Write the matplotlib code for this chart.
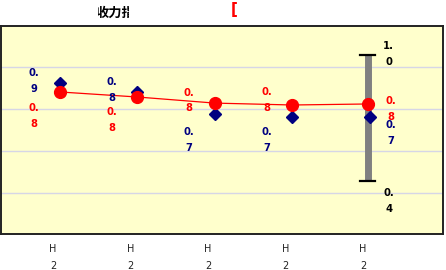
import numpy as np
import matplotlib
matplotlib.use("Agg")
import matplotlib.pyplot as plt
from matplotlib.transforms import Bbox, TransformedBbox, ScaledTranslation

# ---- data ----
categories = ["H\n2", "H\n2", "H\n2", "H\n2", "H\n2"]
blue_vals = [0.867, 0.824, 0.719, 0.705, 0.705]
red_vals = [0.824, 0.800, 0.771, 0.762, 0.767]
blue_labels = ["0.\n9", "0.\n8", "0.\n7", "0.\n7", "0.\n7"]
red_labels = ["0.\n8", "0.\n8", "0.\n8", "0.\n8", "0.\n8"]
range_lo, range_hi = 0.4, 1.0
range_labels = ["1.\n0", "0.\n4"]
grid_vals = [0.345, 0.545, 0.745, 0.945]

# label offsets in pixels (layout only)
blue_off = [(-26, 2), (-26, 2), (-26, -26), (-26, -23), (21, -16)]
red_off = [(-26, -24), (-26, -23), (-26, 3), (-26, 5), (21, -5)]

W, H = 446, 270
fig = plt.figure(figsize=(W / 100, H / 100), dpi=100)
fig.patch.set_facecolor("white")
ax = fig.add_axes([0.5 / W, 1 - 234 / H, 443 / W, 208 / H])
ax.set_facecolor("#FFFFCC")
for s in ax.spines.values():
    s.set_color("#222222")
    s.set_linewidth(1.4)

x = np.arange(len(categories))
ax.set_xlim(-0.768, 4.95)
ax.set_ylim(0.148, 1.138)

for g in grid_vals:
    ax.axhline(g, color="#D6D6E6", lw=1.0, zorder=1)

# range bar on last category
xl = x[-1] - 0.03
ax.plot([xl, xl], [range_lo, range_hi], color="#808080", lw=5, zorder=2,
        solid_capstyle="butt")
for v in (range_lo, range_hi):
    ax.plot([xl - 0.1, xl + 0.1], [v, v], color="black", lw=1.6, zorder=3)

ax.plot(x, red_vals, color="#FF0000", lw=0.9, zorder=4)
ax.plot(x, blue_vals, ls="none", marker="D", ms=6, color="#000080", zorder=5)
ax.plot(x[:-1], red_vals[:-1], ls="none", marker="o", ms=8.5, color="#FF0000", zorder=6)
ax.plot(x[-1:] - 0.03, red_vals[-1:], ls="none", marker="o", ms=8.5, color="#FF0000", zorder=6)

lab_kw = dict(textcoords="offset pixels", ha="center", va="center",
              fontsize=7.2, fontweight="bold", linespacing=1.65, zorder=7)
for i in range(len(x)):
    ax.annotate(blue_labels[i], (x[i], blue_vals[i]), xytext=blue_off[i],
                color="#000080", **lab_kw)
    ax.annotate(red_labels[i], (x[i], red_vals[i]), xytext=red_off[i],
                color="#FF0000", **lab_kw)
ax.annotate(range_labels[0], (xl, range_hi), xytext=(21, 1), color="black", **lab_kw)
ax.annotate(range_labels[1], (xl, range_lo), xytext=(21, -20), color="black", **lab_kw)

ax.set_yticks([])
ax.set_xticks(x)
ax.set_xticklabels(categories, fontsize=7, color="#222222", linespacing=1.9)
ax.tick_params(axis="x", length=0, pad=7)
for t in ax.get_xticklabels():
    t.set_transform(t.get_transform() + ScaledTranslation(-7 / 100, 0, fig.dpi_scale_trans))

# clipped title pieces
t1 = fig.text(115.5 / W, 1 - 12.5 / H, "收力指", fontsize=9.5, fontweight="bold",
              family=["Noto Sans CJK SC", "DejaVu Sans"], ha="center", va="center")
t1.set_clip_box(TransformedBbox(Bbox.from_extents(98 / W, 0.85, 129 / W, 1.0), fig.transFigure))
t1.set_clip_on(True)
t2 = fig.text(231 / W, 1 - 9.5 / H, "[", fontsize=11, fontweight="bold", color="#FF0000",
              ha="left", va="center")
t2.set_clip_box(TransformedBbox(Bbox.from_extents(231 / W, 0.85, 238 / W, 1.0), fig.transFigure))
t2.set_clip_on(True)

fig.savefig("out.png", dpi=100)
